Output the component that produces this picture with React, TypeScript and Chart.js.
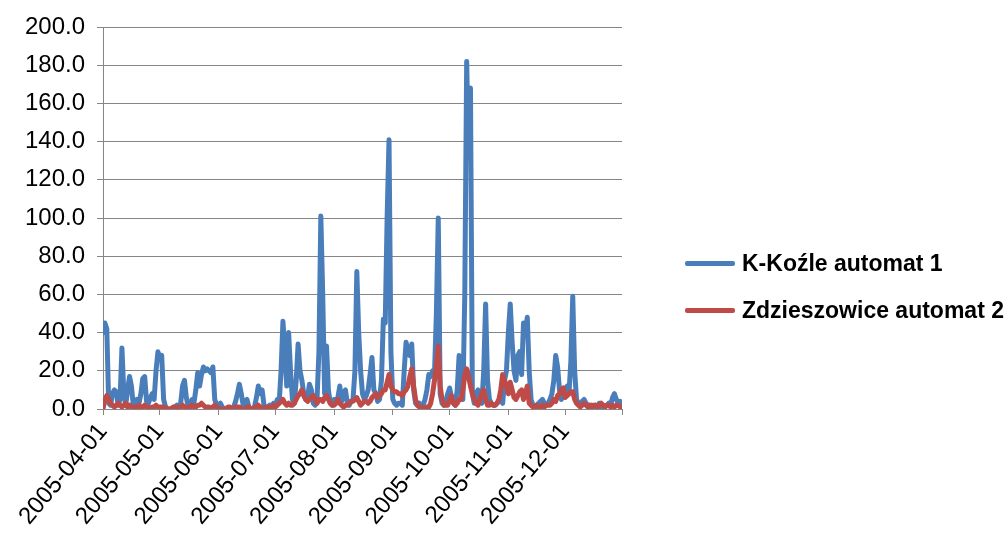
import { useEffect, useRef } from "react";
import { Chart, registerables } from "chart.js";

Chart.register(...registerables);

const seriesNames = ["K-Koźle automat 1", "Zdzieszowice automat 2"];
const seriesColors = ["#4A7EBB", "#BE4B48"];
const startDate = "2005-04-01";
const monthTickLabels = [
  "2005-04-01", "2005-05-01", "2005-06-01", "2005-07-01", "2005-08-01",
  "2005-09-01", "2005-10-01", "2005-11-01", "2005-12-01",
];
const yMin = 0;
const yMax = 200;
const yStep = 20;

// daily values 2005-04-01 .. 2005-12-31
const kozle = [
  // Apr
  40, 45, 42, 3, 2, 8, 10, 9, 2, 5, 32, 8, 2, 10, 17, 12, 2, 3, 5, 3, 8, 16, 17, 4, 3, 6, 8, 5, 20, 30,
  // May
  27, 28, 5, 1, 0, 0, 0, 0, 1, 2, 1, 3, 12, 15, 6, 1, 2, 5, 3, 10, 19, 12, 18, 22, 20, 21, 20, 19, 22, 5, 2,
  // Jun
  2, 3, 1, 0, 0, 0, 0, 0, 1, 4, 8, 13, 8, 2, 4, 5, 1, 0, 0, 1, 6, 12, 8, 10, 2, 0, 1, 2, 1, 3,
  // Jul
  2, 5, 3, 20, 46, 30, 12, 40, 20, 5, 3, 15, 34, 20, 15, 8, 5, 6, 13, 10, 3, 2, 5, 30, 101, 60, 8, 33, 10, 3, 2,
  // Aug
  5, 3, 6, 12, 4, 8, 10, 3, 2, 4, 5, 20, 72, 40, 20, 8, 5, 7, 10, 18, 27, 10, 8, 4, 5, 15, 47, 45, 100, 141, 30,
  // Sep
  5, 3, 2, 3, 3, 2, 20, 35, 30, 28, 34, 10, 3, 2, 3, 2, 2, 5, 10, 18, 17, 20, 18, 50, 100, 8, 3, 2, 4, 8,
  // Oct
  11, 6, 3, 2, 10, 28, 10, 5, 60, 182, 132, 168, 8, 3, 8, 10, 5, 3, 20, 55, 15, 5, 3, 2, 2, 3, 4, 5, 3, 15, 20,
  // Nov
  40, 55, 35, 20, 15, 28, 30, 18, 45, 40, 48, 20, 5, 2, 1, 2, 3, 4, 5, 3, 2, 3, 5, 8, 15, 28, 22, 10, 5, 8,
  // Dec
  10, 12, 8, 25, 59, 20, 5, 3, 2, 4, 5, 3, 2, 1, 2, 1, 2, 1, 3, 1, 2, 1, 2, 3, 2, 6, 8, 5, 3, 4, 2,
];

const zdzieszowice = [
  // Apr
  0, 5, 7, 5, 3, 2, 1, 2, 3, 2, 1, 2, 3, 1, 2, 1, 1, 0, 1, 2, 1, 1, 2, 1, 1, 0, 1, 1, 2, 1,
  // May
  1, 1, 0, 1, 0, 0, 0, 1, 1, 0, 1, 1, 2, 1, 0, 1, 1, 2, 1, 1, 2, 2, 3, 2, 1, 1, 1, 0, 1, 2, 1,
  // Jun
  0, 0, 0, 0, 0, 1, 1, 0, 0, 1, 1, 1, 0, 0, 0, 1, 1, 0, 0, 1, 1, 2, 1, 0, 0, 1, 1, 0, 1, 2,
  // Jul
  1, 2, 3, 4, 5, 3, 2, 3, 2, 2, 3, 5, 7, 8, 10, 7, 5, 4, 5, 6, 7, 5, 3, 5, 5, 4, 6, 7, 5, 3, 2,
  // Aug
  2, 3, 5, 3, 2, 1, 2, 2, 3, 4, 4, 5, 6, 4, 2, 3, 4, 4, 3, 4, 6, 7, 8, 6, 7, 8, 10, 10, 14, 18, 12,
  // Sep
  10, 9, 9, 8, 8, 7, 9, 10, 12, 17, 21, 12, 5, 2, 1, 0, 1, 0, 1, 1, 3, 8, 15, 22, 33, 12, 5, 2, 2, 2,
  // Oct
  5, 7, 3, 2, 3, 5, 5, 10, 18, 21, 17, 12, 8, 5, 3, 2, 5, 8, 10, 5, 2, 2, 3, 2, 2, 3, 5, 10, 18, 15, 12,
  // Nov
  8, 14, 10, 6, 5, 7, 9, 10, 5, 8, 12, 3, 2, 1, 1, 2, 1, 1, 2, 1, 2, 2, 2, 3, 5, 4, 7, 8, 10, 11,
  // Dec
  6, 7, 8, 9, 9, 5, 3, 2, 1, 2, 3, 2, 1, 2, 1, 2, 2, 1, 2, 3, 2, 1, 2, 2, 1, 2, 1, 2, 2, 1, 1,
];

const FONT = '"Liberation Sans", Arial, sans-serif';

export default function App() {
  const ref = useRef<HTMLCanvasElement>(null);

  useEffect(() => {
    const canvas = ref.current;
    if (!canvas) return;
    const day0 = Date.parse(startDate);
    const tickDays = monthTickLabels.map((l) => Math.round((Date.parse(l) - day0) / 86400000));
    const lastDay = kozle.length - 1;
    const allTicks = [...tickDays, lastDay];

    const chart = new Chart(canvas, {
      type: "line",
      data: {
        datasets: [
          {
            label: seriesNames[0],
            data: kozle.map((v, i) => ({ x: i, y: v })),
            borderColor: seriesColors[0],
            backgroundColor: seriesColors[0],
            borderWidth: 5,
            pointRadius: 0,
            tension: 0,
            borderJoinStyle: "round",
            borderCapStyle: "round",
            order: 2,
          },
          {
            label: seriesNames[1],
            data: zdzieszowice.map((v, i) => ({ x: i, y: v })),
            borderColor: seriesColors[1],
            backgroundColor: seriesColors[1],
            borderWidth: 5,
            pointRadius: 0,
            tension: 0,
            borderJoinStyle: "round",
            borderCapStyle: "round",
            order: 1,
          },
        ],
      },
      options: {
        animation: false,
        responsive: false,
        maintainAspectRatio: false,
        layout: { padding: { top: 27, right: 383, left: 0, bottom: 0 } },
        plugins: {
          legend: { display: false },
          tooltip: { enabled: false },
        },
        scales: {
          x: {
            type: "linear",
            min: 0,
            max: lastDay,
            afterBuildTicks: (s: any) => {
              s.ticks = allTicks.map((v) => ({ value: v }));
            },
            afterFit: (s: any) => {
              s.height = 134;
            },
            ticks: {
              autoSkip: false,
              maxRotation: 50,
              minRotation: 50,
              color: "#000",
              padding: 3,
              font: { family: FONT, size: 24 },
              callback: (_v: any, i: number) => monthTickLabels[i] ?? "",
            },
            grid: {
              drawOnChartArea: false,
              drawTicks: true,
              tickLength: 6,
              color: "#868686",
            },
            border: { color: "#868686", width: 1 },
          },
          y: {
            min: yMin,
            max: yMax,
            afterFit: (s: any) => {
              s.width = 103;
            },
            ticks: {
              stepSize: yStep,
              color: "#000",
              padding: 12,
              font: { family: FONT, size: 24 },
              callback: (v: any) => Number(v).toFixed(1),
            },
            grid: { color: "#868686", tickLength: 6, lineWidth: 1 },
            border: { color: "#868686", width: 1 },
          },
        },
      },
    });
    return () => chart.destroy();
  }, []);

  const legendRows = [263, 310];

  return (
    <div style={{ position: "absolute", left: 0, top: 0, width: 1005, height: 543, background: "#fff" }}>
      <canvas ref={ref} width={1005} height={543} style={{ position: "absolute", left: 0, top: 0, width: 1005, height: 543 }} />
      {seriesNames.map((name, i) => (
        <div key={name}>
          <div
            style={{
              position: "absolute",
              left: 685,
              top: legendRows[i] - 2.5,
              width: 50,
              height: 5,
              background: seriesColors[i],
              borderRadius: 2,
            }}
          />
          <div
            style={{
              position: "absolute",
              left: 742,
              top: legendRows[i],
              transform: "translateY(-50%)",
              fontFamily: FONT,
              fontWeight: "bold",
              fontSize: 23,
              lineHeight: 1,
              color: "#000",
              whiteSpace: "nowrap",
            }}
          >
            {name}
          </div>
        </div>
      ))}
    </div>
  );
}
